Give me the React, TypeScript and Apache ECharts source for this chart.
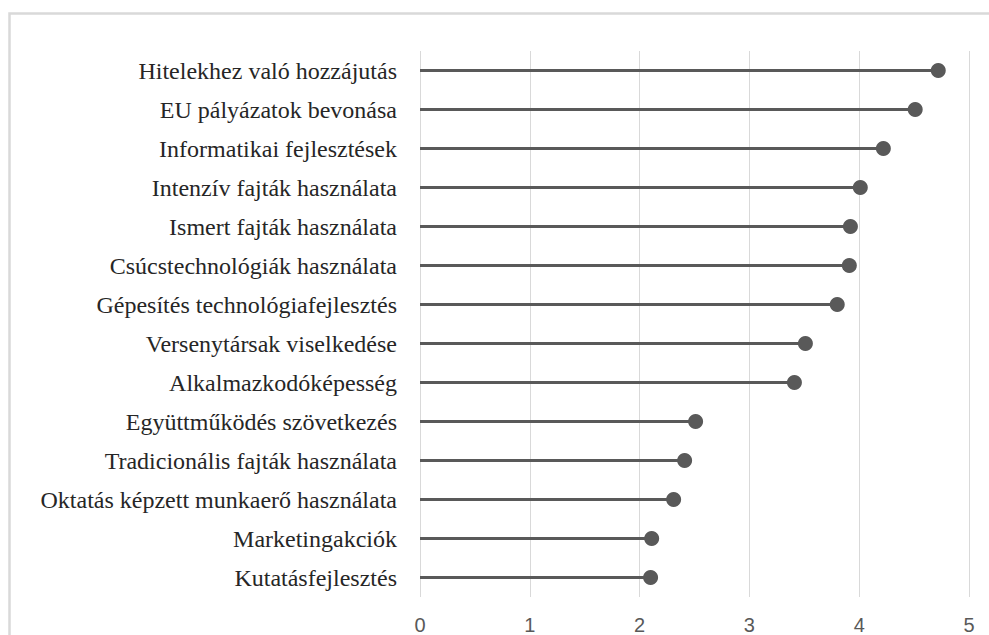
import React, { useEffect, useRef } from "react";
import * as echarts from "echarts";

const categories = [
  "Hitelekhez való hozzájutás",
  "EU pályázatok bevonása",
  "Informatikai fejlesztések",
  "Intenzív fajták használata",
  "Ismert fajták használata",
  "Csúcstechnológiák használata",
  "Gépesítés technológiafejlesztés",
  "Versenytársak viselkedése",
  "Alkalmazkodóképesség",
  "Együttműködés szövetkezés",
  "Tradicionális fajták használata",
  "Oktatás képzett munkaerő használata",
  "Marketingakciók",
  "Kutatásfejlesztés",
];

const values = [4.72, 4.51, 4.22, 4.01, 3.92, 3.91, 3.8, 3.51, 3.41, 2.51, 2.41, 2.31, 2.11, 2.1];

const xTicks = [0, 1, 2, 3, 4, 5];

export default function App() {
  const ref = useRef<HTMLDivElement>(null);

  useEffect(() => {
    if (!ref.current) return;
    const chart = echarts.init(ref.current, undefined, { renderer: "svg" });
    const color = "#595959";
    chart.setOption({
      animation: false,
      backgroundColor: "#ffffff",
      graphic: [
        {
          type: "rect",
          shape: { x: 9.5, y: 13.5, width: 1100, height: 800 },
          style: { fill: "none", stroke: "#d9d9d9", lineWidth: 2.5 },
          silent: true,
        },
      ],
      grid: { left: 420, right: 20, top: 51, bottom: 37, containLabel: false },
      xAxis: {
        type: "value",
        min: xTicks[0],
        max: xTicks[xTicks.length - 1],
        interval: 1,
        axisLine: { show: false },
        axisTick: { show: false },
        splitLine: { show: true, lineStyle: { color: "#d9d9d9", width: 1 } },
        axisLabel: {
          color: "#595959",
          fontSize: 20,
          fontFamily: "Liberation Sans",
          margin: 18,
        },
      },
      yAxis: {
        type: "category",
        data: categories,
        inverse: true,
        axisLine: { show: false },
        axisTick: { show: false },
        splitLine: { show: false },
        axisLabel: {
          color: "#262626",
          fontSize: 24,
          fontFamily: "Liberation Serif",
          margin: 23,
        },
      },
      series: [
        {
          type: "bar",
          data: values,
          barWidth: 3,
          itemStyle: { color },
          silent: true,
        },
        {
          type: "scatter",
          data: values,
          symbol: "circle",
          symbolSize: 15,
          itemStyle: { color, opacity: 1 },
          silent: true,
          z: 3,
        },
      ],
    });
    return () => chart.dispose();
  }, []);

  return (
    <div
      ref={ref}
      style={{ position: "fixed", left: 0, top: 0, width: 989, height: 635, background: "#fff" }}
    />
  );
}
